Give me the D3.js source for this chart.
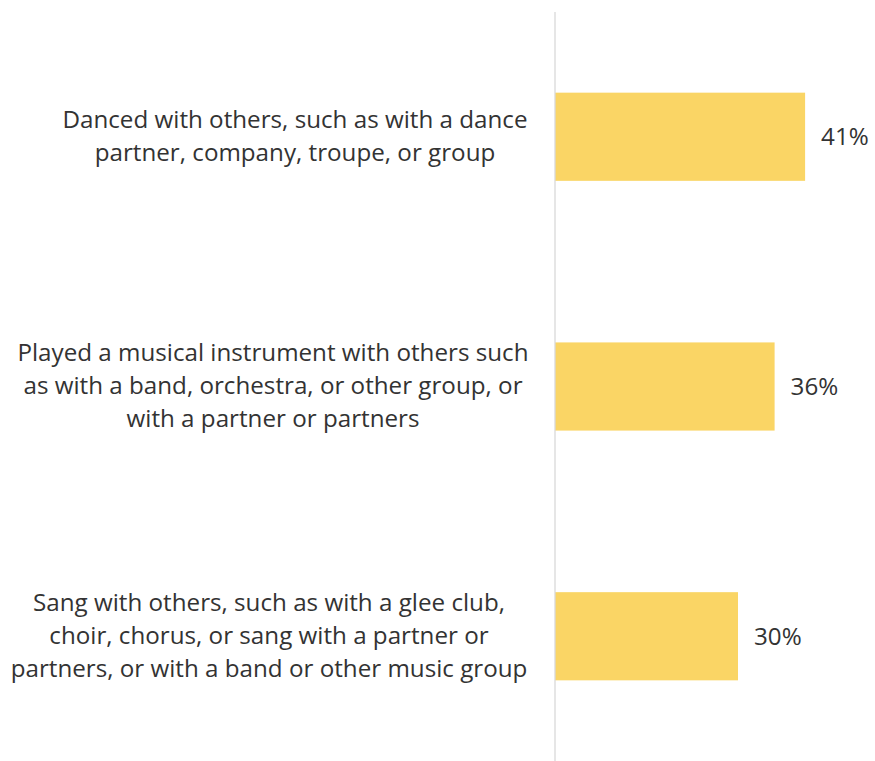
<!DOCTYPE html>
<html><head><meta charset="utf-8">
<script src="https://cdn.jsdelivr.net/npm/d3@7"></script>
<style>body{margin:0;background:#fff}svg{display:block}</style>
</head><body>
<svg id="c" width="875" height="761"></svg>
<script>
const categories = [
  ["Danced with others, such as with a dance", "partner, company, troupe, or group"],
  ["Played a musical instrument with others such", "as with a band, orchestra, or other group, or", "with a partner or partners"],
  ["Sang with others, such as with a glee club,", "choir, chorus, or sang with a partner or", "partners, or with a band or other music group"]
];
const values = [41, 36, 30];
const valueLabels = ["41%", "36%", "30%"];

// layout (label block centres, px)
const labelCenters = [295, 273, 269];

const svg = d3.select("#c");
const font = "'Open Sans', sans-serif";
const fs = 24.2;
const idx = d3.range(values.length);
const y = d3.scaleBand().domain(idx).range([12, 761]).paddingInner(0.647).paddingOuter(0.323);
const x = d3.scaleLinear().domain([0, 100]).range([555, 555 + 610]);

svg.selectAll("rect.bar").data(idx).join("rect")
  .attr("class", "bar")
  .attr("x", x(0)).attr("y", i => y(i))
  .attr("width", i => x(values[i]) - x(0))
  .attr("height", y.bandwidth())
  .attr("fill", "#FAD565");

svg.append("line").attr("x1", x(0)).attr("x2", x(0)).attr("y1", 12).attr("y2", 761)
  .attr("stroke", "#d9d9d9").attr("stroke-width", 1.3);

svg.selectAll("text.val").data(idx).join("text")
  .attr("class", "val")
  .attr("x", i => x(values[i]) + 16)
  .attr("y", i => y(i) + y.bandwidth() / 2)
  .attr("dy", "0.35em")
  .attr("font-family", font).attr("font-size", fs).attr("fill", "#333")
  .text(i => valueLabels[i]);

const lh = 33;
svg.selectAll("text.cat").data(idx).join("text")
  .attr("class", "cat")
  .attr("font-family", font).attr("font-size", fs).attr("fill", "#333")
  .attr("text-anchor", "middle")
  .each(function(i) {
    const lines = categories[i];
    const cy = y(i) + y.bandwidth() / 2;
    const t = d3.select(this);
    lines.forEach((l, k) => {
      t.append("tspan").attr("x", labelCenters[i])
        .attr("y", cy + (k - (lines.length - 1) / 2) * lh)
        .attr("dy", "0.33em").text(l);
    });
  });
</script>
</body></html>
